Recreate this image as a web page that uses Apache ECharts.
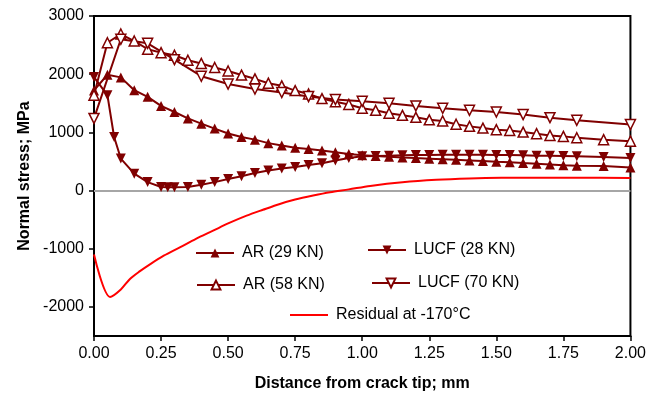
<!DOCTYPE html>
<html>
<head>
<meta charset="utf-8">
<script src="https://cdn.jsdelivr.net/npm/echarts@6/dist/echarts.min.js"></script>
<style>
	html, body { margin: 0; padding: 0; background: #fff; }
	#chart { width: 649px; height: 398px; }
</style>
</head>
<body>
<div id="chart"></div>
<script>
// distance from crack tip (mm) and normal stress (MPa)
const ar29X = [0, 0.05, 0.1, 0.15, 0.2, 0.25, 0.3, 0.35, 0.4, 0.45, 0.5, 0.55, 0.6, 0.65, 0.7, 0.75, 0.8, 0.85, 0.9, 0.95, 1.0, 1.05, 1.1, 1.15, 1.2, 1.25, 1.3, 1.35, 1.4, 1.45, 1.5, 1.55, 1.6, 1.65, 1.7, 1.75, 1.8, 1.9, 2.0]
const ar29Y = [1720, 1990, 1945, 1725, 1610, 1455, 1350, 1240, 1150, 1065, 980, 920, 875, 815, 775, 735, 715, 690, 660, 630, 605, 592, 580, 570, 558, 548, 538, 528, 518, 508, 495, 485, 472, 460, 448, 436, 428, 420, 398]

const lucf28X = [0, 0.05, 0.075, 0.1, 0.15, 0.2, 0.25, 0.275, 0.3, 0.35, 0.4, 0.45, 0.5, 0.55, 0.6, 0.65, 0.7, 0.75, 0.8, 0.85, 0.9, 0.95, 1.0, 1.05, 1.1, 1.15, 1.2, 1.25, 1.3, 1.35, 1.4, 1.45, 1.5, 1.55, 1.6, 1.65, 1.7, 1.75, 1.8, 1.9, 2.0]
const lucf28Y = [1950, 1640, 920, 550, 290, 145, 60, 55, 55, 62, 100, 145, 200, 245, 300, 345, 380, 405, 440, 470, 515, 560, 590, 595, 600, 605, 610, 612, 615, 617, 617, 615, 612, 610, 605, 600, 598, 595, 590, 575, 560]

const ar58X = [0, 0.05, 0.1, 0.15, 0.2, 0.25, 0.3, 0.35, 0.4, 0.45, 0.5, 0.55, 0.6, 0.65, 0.7, 0.75, 0.8, 0.85, 0.9, 0.95, 1.0, 1.05, 1.1, 1.15, 1.2, 1.25, 1.3, 1.35, 1.4, 1.45, 1.5, 1.55, 1.6, 1.65, 1.7, 1.75, 1.8, 1.9, 2.0]
const ar58Y = [1640, 2540, 2690, 2570, 2430, 2370, 2325, 2240, 2185, 2115, 2055, 1985, 1920, 1845, 1800, 1718, 1660, 1580, 1525, 1480, 1415, 1379, 1328, 1293, 1258, 1215, 1195, 1140, 1103, 1074, 1046, 1034, 1005, 977, 948, 931, 908, 874, 848]

const lucf70X = [0, 0.1, 0.2, 0.3, 0.4, 0.5, 0.6, 0.7, 0.8, 0.9, 1.0, 1.1, 1.2, 1.3, 1.4, 1.5, 1.6, 1.7, 1.8, 2.0]
const lucf70Y = [1240, 2600, 2530, 2250, 1965, 1830, 1745, 1685, 1615, 1565, 1535, 1500, 1455, 1415, 1379, 1350, 1305, 1253, 1207, 1135]

const residualX = [0, 0.06, 0.1, 0.134, 0.17, 0.21, 0.26, 0.32, 0.38, 0.444, 0.5, 0.569, 0.63, 0.693, 0.75, 0.817, 0.88, 0.95, 1.03, 1.15, 1.276, 1.4, 1.52, 1.65, 1.8, 2.0]
const residualY = [-1100, -1830, -1700, -1520, -1390, -1264, -1120, -977, -830, -690, -565, -431, -330, -230, -155, -86, -29, 20, 80, 143, 184, 207, 219, 222, 220, 215]

const yTicks = [-2000, -1000, 0, 1000, 2000, 3000]
const names = ["AR (29 KN)", "LUCF (28 KN)", "AR (58 KN)", "LUCF (70 KN)", "Residual at -170\u00B0C"]

const maroon = "#800000"
const font = "Liberation Sans, Arial, sans-serif"

const pairs = (xs, ys) => xs.map((x, i) => [x, ys[i]])

const markerSeries = (name, xs, ys, rotate, hollow) => ({
	name,
	type: "line",
	data: pairs(xs, ys),
	symbol: "triangle",
	symbolSize: 10,
	symbolRotate: rotate,
	lineStyle: { color: maroon, width: 2 },
	itemStyle: hollow
		? { color: "#fff", borderColor: maroon, borderWidth: 1.5 }
		: { color: maroon, borderColor: maroon, borderWidth: 0 },
	z: 3
})

const legendAt = (item, left, top) => ({
	data: [item],
	left,
	top,
	padding: 0,
	itemWidth: 38,
	itemHeight: 11,
	textStyle: { fontFamily: font, fontSize: 16, color: "#000", lineHeight: 16, padding: [0, 0, 0, 3] }
})

const chart = echarts.init(document.getElementById("chart"))
chart.setOption({
	animation: false,
	backgroundColor: "#fff",
	grid: { left: 94, right: 18, top: 16, bottom: 62, show: true, borderColor: "#000", borderWidth: 2 },
	legend: [
		legendAt(names[0], 195, 245),
		legendAt(names[1], 367, 242),
		legendAt(names[2], 196, 277),
		legendAt(names[3], 371, 275),
		legendAt({ name: names[4], itemStyle: { opacity: 0 } }, 289, 307)
	],
	xAxis: {
		type: "value",
		min: 0,
		max: 2,
		interval: 0.25,
		name: "Distance from crack tip; mm",
		nameLocation: "middle",
		nameGap: 40,
		nameTextStyle: { fontFamily: font, fontSize: 16, fontWeight: "bold", color: "#000" },
		axisLine: { onZero: false, lineStyle: { color: "#000", width: 2 } },
		axisTick: { show: true, length: 5, lineStyle: { color: "#000", width: 1.5 } },
		axisLabel: { fontFamily: font, fontSize: 16, color: "#000", margin: 10, formatter: v => v.toFixed(2) },
		splitLine: { show: false }
	},
	yAxis: {
		type: "value",
		min: -2500,
		max: 3000,
		interval: 500,
		name: "Normal stress; MPa",
		nameLocation: "middle",
		nameGap: 61,
		nameTextStyle: { fontFamily: font, fontSize: 16, fontWeight: "bold", color: "#000" },
		axisLine: { show: true, lineStyle: { color: "#000", width: 2 } },
		axisTick: { show: true, length: 5, customValues: yTicks, lineStyle: { color: "#000", width: 1.5 } },
		axisLabel: { fontFamily: font, fontSize: 16, color: "#000", margin: 10, customValues: yTicks, formatter: v => String(v) },
		splitLine: { show: false }
	},
	series: [
		{
			name: names[4],
			type: "line",
			data: pairs(residualX, residualY),
			showSymbol: false,
			symbol: "none",
			smooth: 0.3,
			lineStyle: { color: "#ff0000", width: 2 },
			itemStyle: { color: "#ff0000" },
			z: 2,
			markLine: {
				silent: true,
				symbol: "none",
				label: { show: false },
				lineStyle: { color: "#a6a6a6", width: 2, type: "solid" },
				data: [{ yAxis: 0 }],
				z: 1
			}
		},
		markerSeries(names[0], ar29X, ar29Y, 0, false),
		markerSeries(names[1], lucf28X, lucf28Y, 180, false),
		markerSeries(names[2], ar58X, ar58Y, 0, true),
		markerSeries(names[3], lucf70X, lucf70Y, 180, true)
	]
})
</script>
</body>
</html>
